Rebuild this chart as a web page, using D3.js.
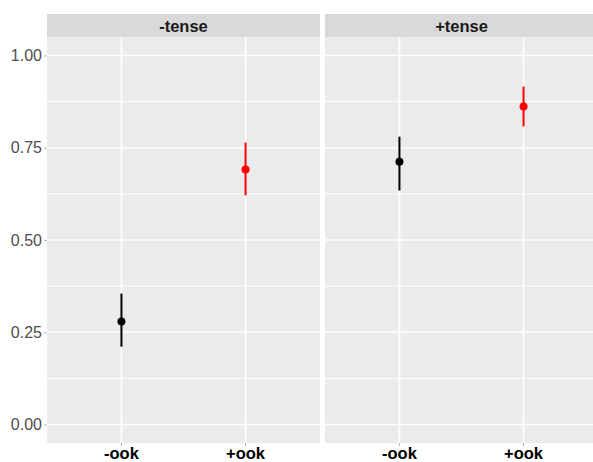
<!DOCTYPE html>
<html>
<head>
<meta charset="utf-8">
<script src="https://cdn.jsdelivr.net/npm/d3@7"></script>
<style>
  html, body { margin: 0; padding: 0; background: #fff; }
  svg { display: block; }
  text { font-family: "Liberation Sans", Arial, sans-serif; }
</style>
</head>
<body>
<svg id="chart" width="593" height="462"></svg>
<script>
// ---- data ----
const facets = ["-tense", "+tense"];
const categories = ["-ook", "+ook"];
const pointFacet = ["-tense", "-tense", "+tense", "+tense"];
const pointCategory = ["-ook", "+ook", "-ook", "+ook"];
const pointValue = [0.279, 0.691, 0.712, 0.862];
const lowerValue = [0.211, 0.621, 0.634, 0.808];
const upperValue = [0.355, 0.764, 0.780, 0.916];
const pointColor = ["#000000", "#ff0000", "#000000", "#ff0000"];
const yTicks = [0, 0.25, 0.5, 0.75, 1.0];
const yMinor = [0.125, 0.375, 0.625, 0.875];

// ---- layout ----
const svg = d3.select("#chart");
const panelTop = 37, panelBottom = 443, stripTop = 14;
const panelW = 273, panelGap = 5, firstLeft = 47;

const y = d3.scaleLinear().domain([-0.05, 1.05]).range([panelBottom, panelTop]);
const fx = d3.scaleOrdinal().domain(facets).range([firstLeft, firstLeft + panelW + panelGap]);
// discrete x with ggplot expansion (0.6 units each side)
const xPos = d3.scalePoint().domain(categories).range([0.6 / 2.2 * panelW, 1.6 / 2.2 * panelW]);

const data = pointValue.map((v, i) => ({
  facet: pointFacet[i], cat: pointCategory[i], v, lo: lowerValue[i], hi: upperValue[i], col: pointColor[i]
}));

facets.forEach(f => {
  const g = svg.append("g").attr("transform", `translate(${fx(f)},0)`);
  // strip
  g.append("rect").attr("x", 0).attr("y", stripTop).attr("width", panelW).attr("height", panelTop - stripTop).attr("fill", "#d9d9d9");
  g.append("text").attr("x", (xPos("-ook") + xPos("+ook")) / 2).attr("y", (stripTop + panelTop) / 2)
    .attr("text-anchor", "middle").attr("dominant-baseline", "central")
    .attr("font-size", 16.5).attr("font-weight", "bold").attr("fill", "#1a1a1a").text(f);
  // panel background
  g.append("rect").attr("x", 0).attr("y", panelTop).attr("width", panelW).attr("height", panelBottom - panelTop).attr("fill", "#ebebeb");
  // minor grid
  g.selectAll(".minor").data(yMinor).enter().append("line")
    .attr("x1", 0).attr("x2", panelW).attr("y1", d => y(d)).attr("y2", d => y(d))
    .attr("stroke", "#fff").attr("stroke-width", 1);
  // major grid
  g.selectAll(".majorY").data(yTicks).enter().append("line")
    .attr("x1", 0).attr("x2", panelW).attr("y1", d => y(d)).attr("y2", d => y(d))
    .attr("stroke", "#fff").attr("stroke-width", 1.6);
  g.selectAll(".majorX").data(categories).enter().append("line")
    .attr("x1", d => xPos(d)).attr("x2", d => xPos(d)).attr("y1", panelTop).attr("y2", panelBottom)
    .attr("stroke", "#fff").attr("stroke-width", 1.6);
  // x ticks & labels
  g.selectAll(".xt").data(categories).enter().append("line")
    .attr("x1", d => xPos(d)).attr("x2", d => xPos(d)).attr("y1", panelBottom).attr("y2", panelBottom + 3)
    .attr("stroke", "#b3b3b3").attr("stroke-width", 1);
  g.selectAll(".xl").data(categories).enter().append("text")
    .attr("x", d => xPos(d)).attr("y", 459).attr("text-anchor", "middle")
    .attr("font-size", 16.5).attr("font-weight", "bold").attr("fill", "#000").text(d => d);
  // error bars and points
  const pd = data.filter(d => d.facet === f);
  g.selectAll(".eb").data(pd).enter().append("line")
    .attr("x1", d => xPos(d.cat)).attr("x2", d => xPos(d.cat))
    .attr("y1", d => y(d.lo)).attr("y2", d => y(d.hi))
    .attr("stroke", d => d.col).attr("stroke-width", 2);
  g.selectAll(".pt").data(pd).enter().append("circle")
    .attr("cx", d => xPos(d.cat)).attr("cy", d => y(d.v)).attr("r", 4)
    .attr("fill", d => d.col);
});

// y axis
const yAxis = d3.axisLeft(y).tickValues(yTicks).tickFormat(d3.format(".2f")).tickSize(3).tickPadding(2);
const ya = svg.append("g").attr("transform", `translate(${firstLeft},0)`).call(yAxis);
ya.select(".domain").remove();
ya.selectAll(".tick line").attr("stroke", "#b3b3b3");
ya.selectAll(".tick text").attr("font-size", 16).attr("fill", "#4d4d4d")
  .attr("font-family", "'Liberation Sans', Arial, sans-serif");
</script>
</body>
</html>
